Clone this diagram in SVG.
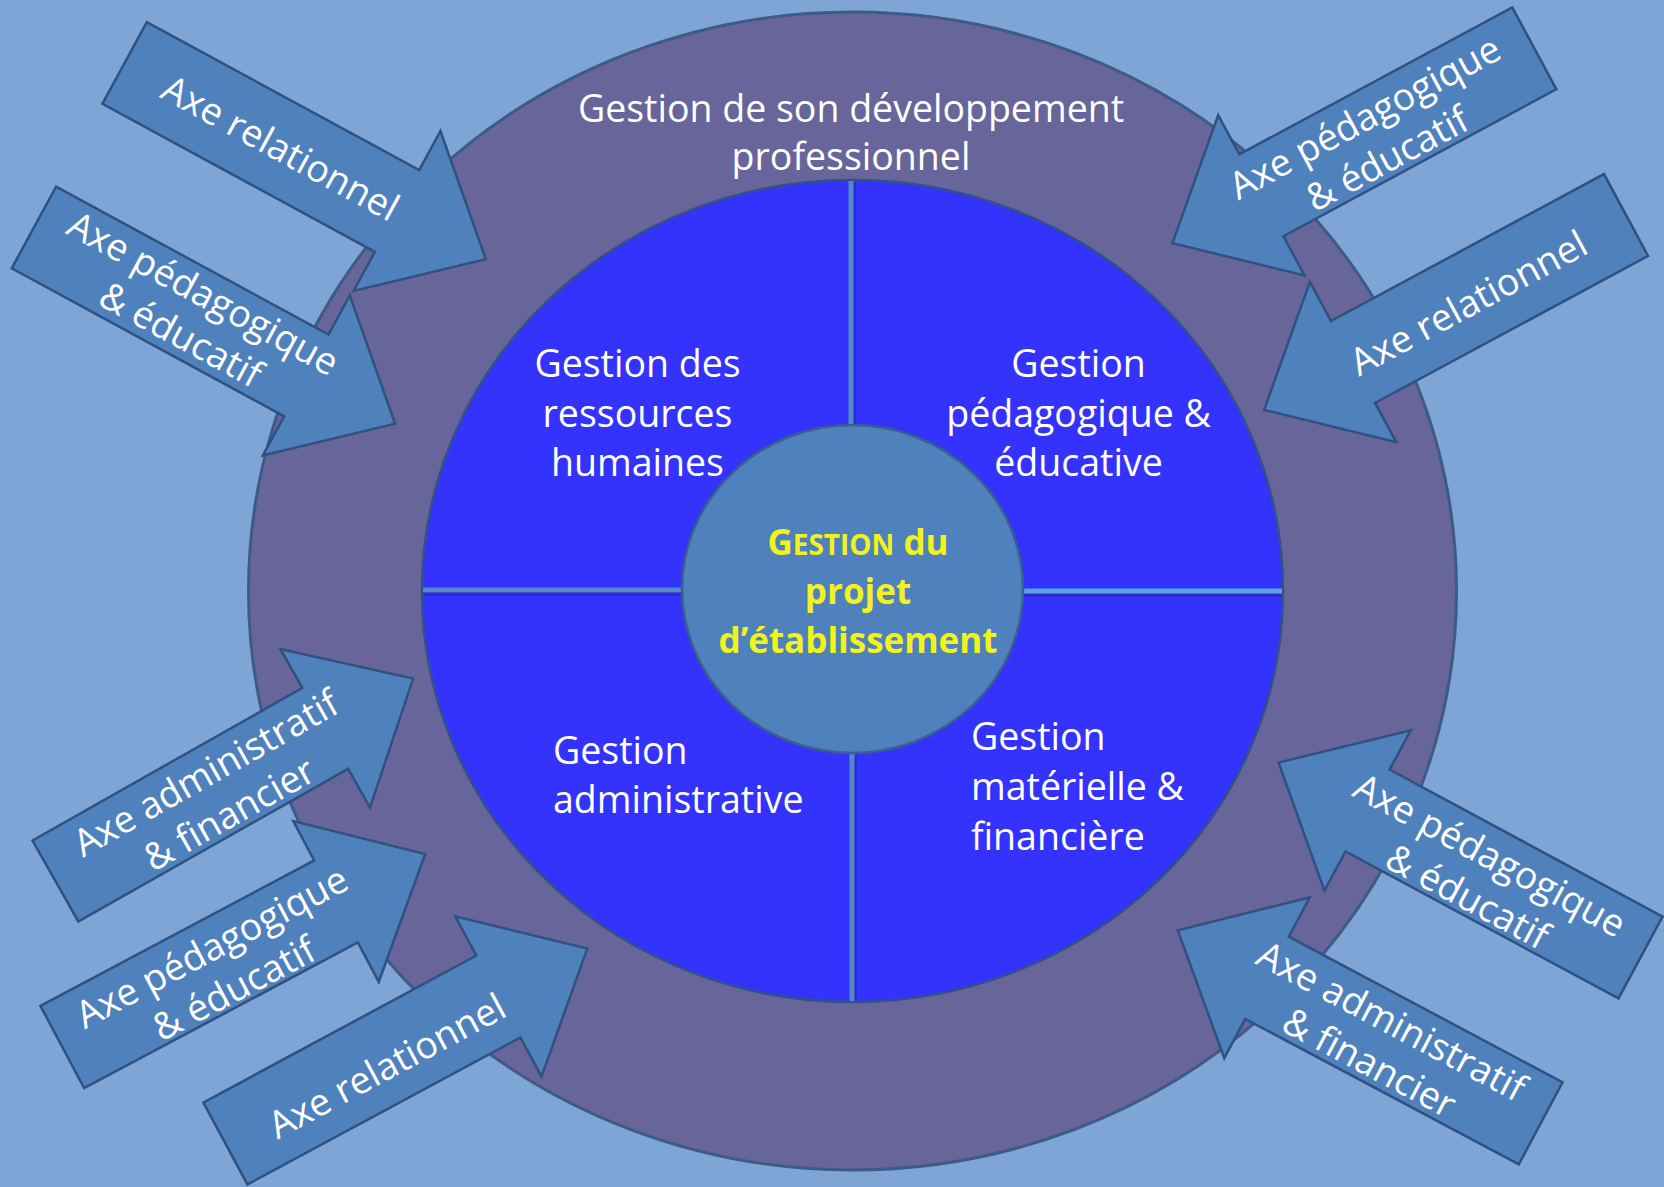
<svg xmlns="http://www.w3.org/2000/svg" width="1664" height="1187" viewBox="0 0 1664 1187">
<style>
.t{font-family:'Open Sans','Liberation Sans',sans-serif;font-size:37.5px;fill:#ffffff;text-anchor:middle}
.tl{font-family:'Open Sans','Liberation Sans',sans-serif;font-size:37.5px;fill:#ffffff;text-anchor:start}
.c{font-family:'Open Sans','Liberation Sans',sans-serif;font-size:35px;font-weight:bold;fill:#f2f21c;text-anchor:middle}
.arr{fill:#4f81bd;stroke:#30517f;stroke-width:2.5;stroke-linejoin:miter}
.div{stroke:#5688c8;stroke-width:5}
.sh{stroke:#2a2ad8;stroke-width:4}
</style>
<defs>
<path id="ap" d="M0,-46.5 H310 V-91 L411,0 L310,91 V46.5 H0 Z"/>
</defs>
<rect width="1664" height="1187" fill="#7ea5d6"/>
<g id="ring">
<ellipse cx="852.5" cy="591" rx="604" ry="579" fill="#676599" stroke="#3e5a86" stroke-width="3"/>
<text class="t" x="851" y="122">Gestion de son développement</text>
<text class="t" x="851" y="170">professionnel</text>
</g>
<g id="quadrants">
<ellipse cx="852.5" cy="591" rx="430.5" ry="411" fill="#3333fd" stroke="#34508a" stroke-width="2.5"/>
<line class="sh" x1="854" y1="182" x2="854" y2="426"/>
<line class="div" x1="851" y1="181" x2="851" y2="426"/>
<line class="sh" x1="423" y1="594" x2="684" y2="594"/>
<line class="div" x1="423" y1="590" x2="684" y2="590"/>
<line class="sh" x1="1022" y1="595" x2="1282" y2="595"/>
<line class="div" x1="1022" y1="591" x2="1282" y2="591" style="stroke:#58a2e6"/>
<line class="sh" x1="855" y1="752" x2="855" y2="1001"/>
<line class="div" x1="852" y1="752" x2="852" y2="1001"/>
</g>
<g id="q-rh">
<text class="t" x="637.5" y="377">Gestion des</text>
<text class="t" x="637.5" y="426.5">ressources</text>
<text class="t" x="637.5" y="476">humaines</text>
</g>
<g id="q-ped">
<text class="t" x="1078.5" y="377">Gestion</text>
<text class="t" x="1078.5" y="426.5">pédagogique &amp;</text>
<text class="t" x="1078.5" y="476">éducative</text>
</g>
<g id="q-adm">
<text class="tl" x="553" y="764">Gestion</text>
<text class="tl" x="553" y="813">administrative</text>
</g>
<g id="q-mat">
<text class="tl" x="971" y="750">Gestion</text>
<text class="tl" x="971" y="800">matérielle &amp;</text>
<text class="tl" x="971" y="850">financière</text>
</g>
<g id="center">
<ellipse cx="852.5" cy="589" rx="170.5" ry="164" fill="#4f81bd" stroke="#3a5f8c" stroke-width="2.5"/>
<text class="c" x="858" y="555">G<tspan font-size="28">ESTION</tspan> du</text>
<text class="c" x="858" y="604">projet</text>
<text class="c" x="858" y="653">d’établissement</text>
</g>
<g id="connectors">
<g id="arrow1"><use href="#ap" class="arr" transform="translate(124.6,63) rotate(28.5)"/>
<text class="t" transform="translate(280,149) rotate(28.5)" y="12">Axe relationnel</text></g>
<g id="arrow2"><use href="#ap" class="arr" transform="translate(33.9,227.5) rotate(28.5)"/>
<g transform="translate(191.5,315) rotate(28.5)"><text class="t" y="-11.5">Axe pédagogique</text><text class="t" y="35.5">&amp; éducatif</text></g></g>
<g id="arrow3"><use href="#ap" class="arr" transform="translate(1534.3,48.3) rotate(151.7)"/>
<g transform="translate(1376.5,139) rotate(-28.3)"><text class="t" y="-11.5">Axe pédagogique</text><text class="t" y="35.5">&amp; éducatif</text></g></g>
<g id="arrow4"><use href="#ap" class="arr" transform="translate(1626,215) rotate(151.7)"/>
<text class="t" transform="translate(1469,304) rotate(-28.3)" y="12">Axe relationnel</text></g>
<g id="arrow5"><use href="#ap" class="arr" transform="translate(55.4,881) rotate(-29.5)"/>
<g transform="translate(218,794.6) rotate(-29.5)"><text class="t" y="-11.5">Axe administratif</text><text class="t" y="35.5">&amp; financier</text></g></g>
<g id="arrow6"><use href="#ap" class="arr" transform="translate(62.3,1047) rotate(-28)"/>
<g transform="translate(223.4,968.8) rotate(-28)"><text class="t" y="-11.5">Axe pédagogique</text><text class="t" y="35.5">&amp; éducatif</text></g></g>
<g id="arrow7"><use href="#ap" class="arr" transform="translate(225.4,1143.5) rotate(-28.3)"/>
<text class="t" transform="translate(387.5,1066.9) rotate(-28.3)" y="12">Axe relationnel</text></g>
<g id="arrow8"><use href="#ap" class="arr" transform="translate(1640.5,957.5) rotate(208.3)"/>
<g transform="translate(1478.2,877) rotate(28.3)"><text class="t" y="-11.5">Axe pédagogique</text><text class="t" y="35.5">&amp; éducatif</text></g></g>
<g id="arrow9"><use href="#ap" class="arr" transform="translate(1540.7,1123.3) rotate(208)"/>
<g transform="translate(1380,1043) rotate(28)"><text class="t" y="-11.5">Axe administratif</text><text class="t" y="35.5">&amp; financier</text></g></g>
</g>
</svg>
